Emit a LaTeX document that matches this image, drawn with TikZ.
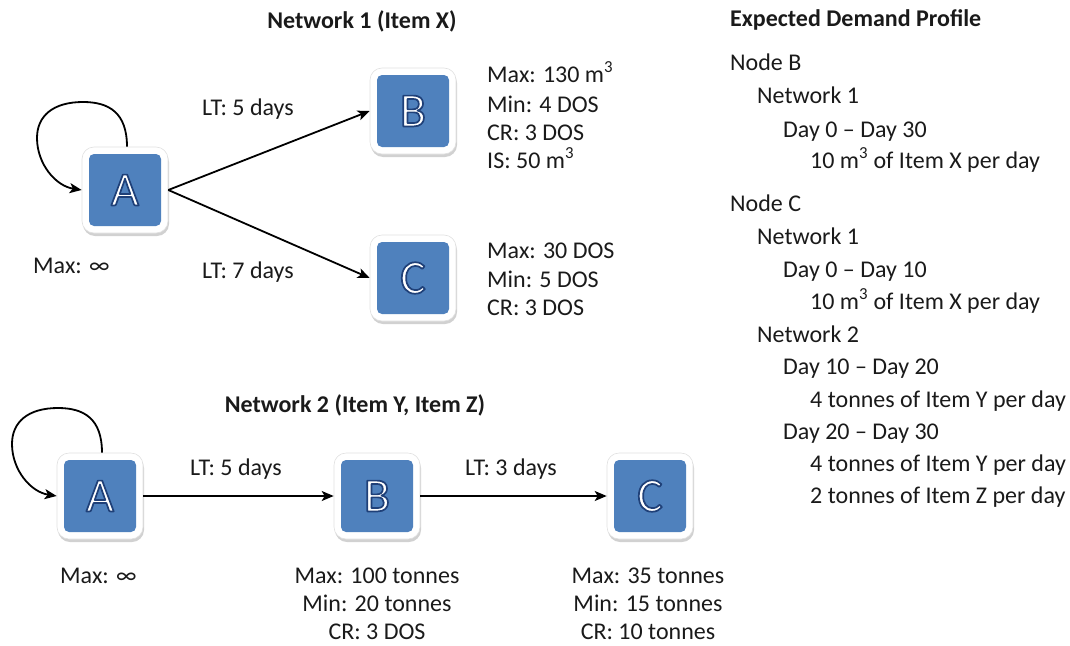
\documentclass[tikz,border=0pt]{standalone}
\usepackage{fontspec}
\setmainfont{Carlito}
\usetikzlibrary{arrows.meta,shadows,calc}

\definecolor{nodeblue}{HTML}{4F81BD}
\definecolor{ink}{HTML}{1A1A1A}

% filled white letter with a dark blue outline (text render mode 2)
\newcommand\outlined[1]{%
  \special{pdf:literal direct 2 Tr 1.7 w 1 j 0.12 0.25 0.47 RG}#1%
  \special{pdf:literal direct 0 Tr}}
\newcommand\mcube{m\textsuperscript{3}}

\tikzset{
  frame/.style={draw=black!12, line width=0.6pt, fill=white, rounded corners=12pt,
    minimum width=86pt, minimum height=86pt, inner sep=0pt,
    drop shadow={shadow xshift=1pt, shadow yshift=-3pt, opacity=0.3, fill=black!60}},
  core/.style={fill=nodeblue, rounded corners=5pt, minimum width=72pt,
    minimum height=72pt, inner sep=0pt},
  glyph/.style={font=\fontsize{48}{48}\selectfont, inner sep=0pt, text=white},
  lbl/.style={font=\fontsize{24}{29}\selectfont, text=ink, inner sep=0pt},
  ttl/.style={font=\fontsize{24}{29}\selectfont\bfseries, text=ink, inner sep=0pt},
  arr/.style={line width=1.8pt, draw=black,
    -{Stealth[length=12pt,width=10pt,inset=3pt]}},
}

% A node: white framed tile, blue square and an outlined capital letter
\newcommand\netbox[3]{%
  \node[frame] (#1) at (#2) {};
  \node[core] (#1c) at (#2) {};
  \node[glyph] (#1t) at (#2) {\outlined{#3}};
}

% Loop from the top of a tile round to its left side
\newcommand\selfloop[1]{%
  \draw[arr] ($(#1.north)+(2,0)$)
    .. controls +(0,-34) and +(26,0) .. ($(#1)+(-42,-88)$)
    .. controls +(-30,0) and +(0,-22) .. ($(#1)+(-88,-52)$)
    .. controls +(0,26) and +(-26,-4) .. (#1.west);
}

\begin{document}
\begin{tikzpicture}[x=1pt,y=-1pt]
\useasboundingbox (0,0) rectangle (1070,645);

% ---------------- Network 1 ----------------
\node[ttl, anchor=base] (t1) at (362,28) {Network 1 (Item X)};
\netbox{A1}{125,190}{A}
\netbox{B1}{413,111}{B}
\netbox{C1}{413,278}{C}

\selfloop{A1}
\draw[arr] (A1.east) -- (B1.west);
\draw[arr] (A1.east) -- (C1.west);

\node[lbl, anchor=base west] (lt1) at (202,115) {LT: 5 days};
\node[lbl, anchor=base west] (lt2) at (202,278) {LT: 7 days};
\node[lbl, anchor=base west] (ma1) at (33,273) {Max: ∞};

\node[lbl, anchor=base west] (b1a) at (487,82) {Max: 130 \mcube};
\node[lbl, anchor=base west] (b1b) at (487,112) {Min: 4 DOS};
\node[lbl, anchor=base west] (b1c) at (487,140) {CR: 3 DOS};
\node[lbl, anchor=base west] (b1d) at (487,168) {IS: 50 \mcube};

\node[lbl, anchor=base west] (c1a) at (487,258) {Max: 30 DOS};
\node[lbl, anchor=base west] (c1b) at (487,287) {Min: 5 DOS};
\node[lbl, anchor=base west] (c1c) at (487,315) {CR: 3 DOS};

% ---------------- Network 2 ----------------
\node[ttl, anchor=base] (t2) at (355,412) {Network 2 (Item Y, Item Z)};
\netbox{A2}{100,496}{A}
\netbox{B2}{377,496}{B}
\netbox{C2}{650,496}{C}

\selfloop{A2}
\draw[arr] (A2.east) -- (B2.west);
\draw[arr] (B2.east) -- (C2.west);

\node[lbl, anchor=base west] (lt3) at (190,475) {LT: 5 days};
\node[lbl, anchor=base west] (lt4) at (465,475) {LT: 3 days};
\node[lbl, anchor=base west] (ma2) at (60,583) {Max: ∞};

\node[lbl, anchor=base] (b2a) at (377,583) {Max: 100 tonnes};
\node[lbl, anchor=base] (b2b) at (377,611) {Min: 20 tonnes};
\node[lbl, anchor=base] (b2c) at (377,639) {CR: 3 DOS};

\node[lbl, anchor=base] (c2a) at (648,583) {Max: 35 tonnes};
\node[lbl, anchor=base] (c2b) at (648,611) {Min: 15 tonnes};
\node[lbl, anchor=base] (c2c) at (648,639) {CR: 10 tonnes};

% ---------------- Demand profile ----------------
\node[ttl, anchor=base west] (dp) at (730,27) {Expected Demand Profile};
\node[lbl, anchor=base west] (d01) at (730,70) {Node B};
\node[lbl, anchor=base west] (d02) at (757,103) {Network 1};
\node[lbl, anchor=base west] (d03) at (783,137) {Day 0 – Day 30};
\node[lbl, anchor=base west] (d04) at (810,168) {10 \mcube\ of Item X per day};
\node[lbl, anchor=base west] (d05) at (730,211) {Node C};
\node[lbl, anchor=base west] (d06) at (757,244) {Network 1};
\node[lbl, anchor=base west] (d07) at (783,277) {Day 0 – Day 10};
\node[lbl, anchor=base west] (d08) at (810,309) {10 \mcube\ of Item X per day};
\node[lbl, anchor=base west] (d09) at (757,342) {Network 2};
\node[lbl, anchor=base west] (d10) at (783,374) {Day 10 – Day 20};
\node[lbl, anchor=base west] (d11) at (810,407) {4 tonnes of Item Y per day};
\node[lbl, anchor=base west] (d12) at (783,439) {Day 20 – Day 30};
\node[lbl, anchor=base west] (d13) at (810,471) {4 tonnes of Item Y per day};
\node[lbl, anchor=base west] (d14) at (810,503) {2 tonnes of Item Z per day};
\end{tikzpicture}
\end{document}
